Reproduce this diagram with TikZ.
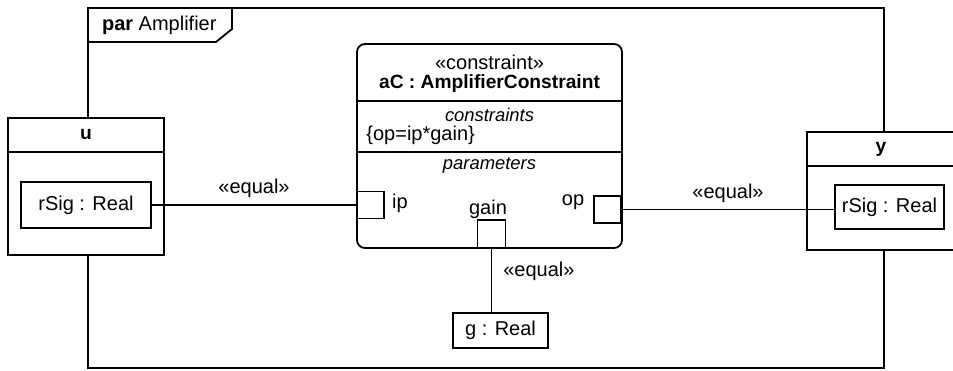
\documentclass[tikz,border=0pt]{standalone}
\usepackage{fontspec}
\setmainfont{Liberation Sans}
\usetikzlibrary{positioning,calc}

\begin{document}
\begin{tikzpicture}[
    x=0.5pt, y=-0.5pt,
    font=\fontsize{10}{12}\selectfont,
    block/.style={draw, fill=white, line width=0.9pt, inner sep=0pt},
    part/.style={block, minimum width=78pt, minimum height=68.5pt},
    prop/.style={block, minimum width=65pt, minimum height=23pt},
    port/.style={block, minimum size=13.5pt},
    sep/.style={line width=0.9pt},
    conn/.style={line width=0.8pt},
    lbl/.style={inner sep=1pt},
    hdr/.style={font=\fontsize{9.6}{12}\selectfont\bfseries},
    comp/.style={font=\fontsize{9.2}{11}\selectfont\itshape},
]
\useasboundingbox (0,0) rectangle (953,370);

% Diagram frame with its name tab
\draw[sep] (88,8) rectangle (884,368);
\draw[sep] (88,42) -- (216,42) -- (232,29) -- (232,8);
\node[anchor=west] (title) at (95,25) {\textbf{par} Amplifier};

% Part u
\node[part] (u) at (86,186.5) {};
\draw[sep] (8,152) -- (164,152);
\node[hdr] (uname) at (86,135) {u};
\node[prop] (usig) at (86,205) {rSig : Real};

% Part y (cut at the right border)
\node[part, minimum width=74pt, minimum height=59pt] (y) at (881,191) {};
\draw[sep] (807,166) -- (955,166);
\node[hdr] (yname) at (881,149) {y};
\node[prop, minimum width=54.5pt, minimum height=22pt] (ysig) at (889.5,207) {rSig : Real};

% Constraint property aC
\node[block, rounded corners=4pt, minimum width=132.5pt, minimum height=102pt] (ac) at (489.5,146) {};
\draw[sep] (357,101) -- (622,101);
\draw[sep] (357,152) -- (622,152);
\node (stereo) at (489.5,62) {«constraint»};
\node[hdr] (acname) at (489.5,84) {aC : AmplifierConstraint};
\node[comp] (ctitle) at (489.5,115) {constraints};
\node[anchor=west, inner sep=0pt] (expr) at (366,135) {\{op=ip*gain\}};
\node[comp] (ptitle) at (489.5,165) {parameters};

% Parameter ports
\node[port] (ip) at (370.5,205) {};
\node[port, minimum size=14pt] (gain) at (491.5,234) {};
\node[port] (op) at (607.5,209.5) {};
\node (iplbl) at (400,203) {ip};
\node (gainlbl) at (488,209) {gain};
\node (oplbl) at (573,202) {op};

% Value property g
\node[prop, minimum width=47.5pt, minimum height=17.5pt] (g) at (500.5,330.5) {g : Real};

% Binding connectors
\draw[conn] (usig.east) -- node[lbl, above=2.5pt] (eq1) {«equal»} (ip.west);
\draw[conn] (op.east) -- node[lbl, above=2pt] (eq2) {«equal»} (op.east -| ysig.west);
\draw[conn] (gain.south) -- node[lbl, pos=0.35, right=4.5pt] (eq3) {«equal»} (gain.south |- g.north);

\end{tikzpicture}
\end{document}
